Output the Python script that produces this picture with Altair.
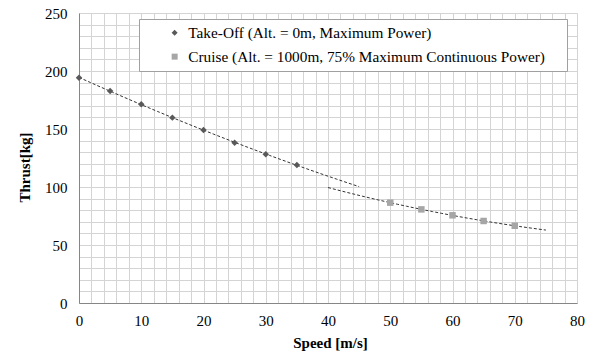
import altair as alt
import pandas as pd

# ---- data ----
takeoff_speed = [0, 5, 10, 15, 20, 25, 30, 35]
takeoff_thrust = [194.2, 182.8, 171.3, 159.8, 149.1, 138.2, 128.2, 119.0]
cruise_speed = [50, 55, 60, 65, 70]
cruise_thrust = [86.5, 80.7, 75.6, 70.7, 66.6]
series_names = [
    "Take-Off (Alt. = 0m, Maximum Power)",
    "Cruise (Alt. = 1000m, 75% Maximum Continuous Power)",
]
takeoff_trend_extent = [0, 45]
cruise_trend_extent = [40, 75]
x_minor_ticks = list(range(0, 81, 2))
x_major_ticks = list(range(0, 81, 10))
y_minor_ticks = list(range(0, 251, 10))
y_major_ticks = list(range(0, 251, 50))

FONT = "Liberation Serif"
FS = 15
DARK = "#595959"
LIGHT = "#a6a6a6"
MINOR_GRID = "#d4d4d4"
MAJOR_GRID = "#a3a3a3"

takeoff = pd.DataFrame({"speed": takeoff_speed, "thrust": takeoff_thrust,
                        "series": series_names[0]})
cruise = pd.DataFrame({"speed": cruise_speed, "thrust": cruise_thrust,
                       "series": series_names[1]})
points_df = pd.concat([takeoff, cruise], ignore_index=True)

x_scale = alt.Scale(domain=[0, 80], nice=False)
y_scale = alt.Scale(domain=[0, 250], nice=False)

# minor grid axes (no labels)
x_minor = alt.X("speed:Q", scale=x_scale, title=None,
                axis=alt.Axis(orient="bottom", values=x_minor_ticks, labels=False,
                              ticks=False, domain=False, gridColor=MINOR_GRID))
y_minor = alt.Y("thrust:Q", scale=y_scale, title=None,
                axis=alt.Axis(orient="left", values=y_minor_ticks, labels=False,
                              ticks=False, domain=False, gridColor=MINOR_GRID))

# major axes with labels and titles
x_major = alt.X("speed:Q", scale=x_scale, title="Speed [m/s]",
                axis=alt.Axis(orient="bottom", values=x_major_ticks, gridColor=MAJOR_GRID,
                              ticks=False, labelFlush=False, labelPadding=10,
                              labelFont=FONT, labelFontSize=FS, labelColor="black",
                              titleFont=FONT, titleFontSize=FS, titleFontWeight="bold",
                              titleColor="black", titleX=251, titleY=39,
                              titleBaseline="middle", domainColor="#868686"))
y_major = alt.Y("thrust:Q", scale=y_scale, title="Thrust[kg]",
                axis=alt.Axis(orient="left", values=y_major_ticks, gridColor=MAJOR_GRID,
                              ticks=False, labelFlush=False, labelPadding=12,
                              labelFont=FONT, labelFontSize=FS, labelColor="black",
                              titleFont=FONT, titleFontSize=FS, titleFontWeight="bold",
                              titleColor="black", titleX=-55, titleY=154,
                              titleBaseline="middle", domainColor="#868686"))

x_plain = alt.X("speed:Q", scale=x_scale, axis=None)
y_plain = alt.Y("thrust:Q", scale=y_scale, axis=None)

legend = alt.Legend(
    title=".",
    titleColor="white",
    titleFontSize=10,
    titleOrient="right",
    titlePadding=13,
    orient="none",
    legendX=60,
    legendY=6,
    fillColor="white",
    strokeColor="#a0a0a0",
    padding=6,
    symbolOffset=22,
    labelOffset=6,
    rowPadding=8,
    symbolSize=36,
    labelFont=FONT,
    labelFontSize=15.3,
    labelColor="black",
    labelLimit=700,
)

trend_takeoff = alt.Chart(takeoff).transform_regression(
    "speed", "thrust", method="poly", order=2, extent=takeoff_trend_extent
).mark_line(strokeDash=[3, 2], strokeWidth=1, color="#333333").encode(
    x=x_minor, y=y_minor
)
trend_cruise = alt.Chart(cruise).transform_regression(
    "speed", "thrust", method="poly", order=2, extent=cruise_trend_extent
).mark_line(strokeDash=[3, 2], strokeWidth=1, color="#333333").encode(
    x=x_major, y=y_major
)

points = alt.Chart(points_df).mark_point(filled=True, opacity=1, size=42).encode(
    x=x_plain,
    y=y_plain,
    color=alt.Color("series:N", scale=alt.Scale(domain=series_names, range=[DARK, LIGHT]),
                    legend=legend),
    shape=alt.Shape("series:N", scale=alt.Scale(domain=series_names, range=["diamond", "square"]),
                    legend=legend),
)

chart = alt.layer(trend_takeoff, trend_cruise, points).resolve_axis(
    x="independent", y="independent"
).properties(
    width=498,
    height=290,
    autosize=alt.AutoSizeParams(type="none"),
    padding={"left": 79, "top": 13, "right": 31, "bottom": 48},
    background="white",
).configure_view(stroke=None).configure(font=FONT)

chart.save("out.html", embed_options={"renderer": "svg", "actions": False})
